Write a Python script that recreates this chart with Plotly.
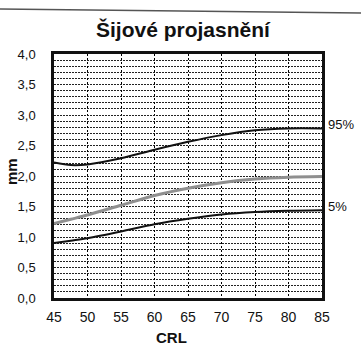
import plotly.graph_objects as go

crl = [45, 47.5, 50, 55, 60, 65, 70, 75, 80, 85]
p95 = [2.22, 2.18, 2.19, 2.29, 2.43, 2.56, 2.67, 2.75, 2.78, 2.78]
p50 = [1.22, 1.29, 1.36, 1.52, 1.68, 1.80, 1.89, 1.95, 1.98, 1.99]
p5 = [0.90, 0.94, 0.98, 1.09, 1.21, 1.30, 1.37, 1.41, 1.43, 1.44]

x_ticks = [45, 50, 55, 60, 65, 70, 75, 80, 85]
y_ticks = [0, 0.5, 1, 1.5, 2, 2.5, 3, 3.5, 4]
title_text = "Šijové projasnění"
x_title = "CRL"
y_title = "mm"
labels = ["95%", "5%"]

FONT = "Liberation Sans, Arial, sans-serif"

fig = go.Figure()
fig.add_trace(go.Scatter(x=crl, y=p95, mode="lines", line=dict(color="#111", width=2, shape="spline", smoothing=0.8), showlegend=False))
fig.add_trace(go.Scatter(x=crl, y=p50, mode="lines", line=dict(color="#8f8f8f", width=3, shape="spline", smoothing=0.8), showlegend=False))
fig.add_trace(go.Scatter(x=crl, y=p5, mode="lines", line=dict(color="#111", width=2, shape="spline", smoothing=0.8), showlegend=False))

fig.update_layout(
    width=361, height=360,
    margin=dict(l=54, r=39, t=54, b=62),
    paper_bgcolor="white", plot_bgcolor="white",
    separators=",.",
    font=dict(family=FONT, size=14, color="#111"),
    xaxis=dict(range=[45, 85], tickvals=x_ticks, showgrid=True, gridcolor="#000", gridwidth=1,
               griddash="2px,2px", zeroline=False, showline=True, linecolor="#111", linewidth=2.5,
               mirror=True, ticks="", ticklabelstandoff=4, tickfont=dict(size=14)),
    yaxis=dict(range=[0, 4], tickvals=y_ticks, tickformat=".1f", showgrid=True, gridcolor="#222",
               gridwidth=1, griddash="2px,1px", zeroline=False, showline=True, linecolor="#111",
               linewidth=2.5, mirror=True, ticks="", ticklabelstandoff=13, tickfont=dict(size=13)),
)
fig.update_yaxes(minor=dict(dtick=0.1, showgrid=True, gridcolor="#222", gridwidth=1, griddash="2px,1px"))

fig.add_annotation(text="<b>" + title_text + "</b>", xref="paper", yref="paper",
                   x=(183 - 54) / 268, y=(298 - 30) / 244, showarrow=False,
                   font=dict(size=21, family=FONT, color="#111"), xanchor="center", yanchor="middle")
fig.add_annotation(text="<b>" + x_title + "</b>", xref="paper", yref="paper",
                   x=(171 - 54) / 268, y=(298 - 337) / 244, showarrow=False,
                   font=dict(size=15, family=FONT, color="#111"), xanchor="center", yanchor="middle")
fig.add_annotation(text="<b>" + y_title + "</b>", xref="paper", yref="paper",
                   x=(11 - 54) / 268, y=(298 - 172) / 244, showarrow=False, textangle=-90,
                   font=dict(size=15, family=FONT, color="#111"), xanchor="center", yanchor="middle")
fig.add_annotation(text=labels[0], xref="paper", yref="y", x=(326 - 54) / 268, y=p95[-1],
                   showarrow=False, xanchor="left", yanchor="bottom", yshift=-6,
                   font=dict(size=13, family=FONT, color="#111"))
fig.add_annotation(text=labels[1], xref="paper", yref="y", x=(326 - 54) / 268, y=p5[-1],
                   showarrow=False, xanchor="left", yanchor="bottom", yshift=-6,
                   font=dict(size=13, family=FONT, color="#111"))

# scan edge line at the top of the page
fig.add_shape(type="line", xref="paper", yref="paper",
              x0=(0 - 54) / 268, x1=(361 - 54) / 268,
              y0=(298 - 9) / 244, y1=(298 - 13) / 244,
              line=dict(color="#555", width=1.5))

fig.write_html("out.html")
